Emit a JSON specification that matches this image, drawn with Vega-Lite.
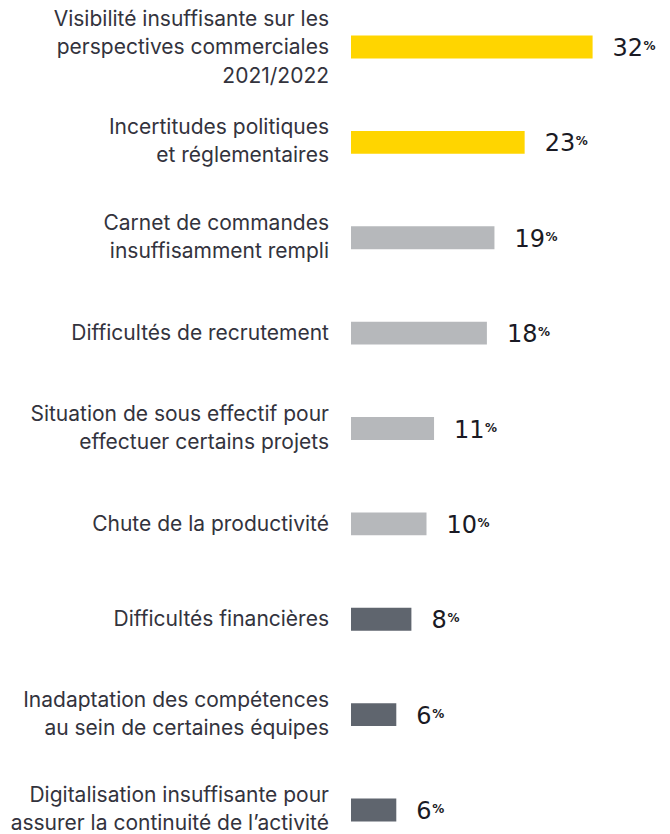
{
  "$schema": "https://vega.github.io/schema/vega-lite/v6.json",
  "width": 302,
  "height": 805,
  "autosize": {"type": "none"},
  "padding": {"left": 351, "top": 26, "right": 17, "bottom": 3},
  "background": "white",
  "config": {"view": {"stroke": null}, "font": "Inter"},
  "data": {
    "values": [
      {"cat": "Visibilité insuffisante sur les perspectives commerciales 2021/2022", "lines": ["Visibilité insuffisante sur les", "perspectives commerciales", "2021/2022"], "value": 32, "group": "top"},
      {"cat": "Incertitudes politiques et réglementaires", "lines": ["Incertitudes politiques", "et réglementaires"], "value": 23, "group": "top"},
      {"cat": "Carnet de commandes insuffisamment rempli", "lines": ["Carnet de commandes", "insuffisamment rempli"], "value": 19, "group": "mid"},
      {"cat": "Difficultés de recrutement", "lines": ["Difficultés de recrutement"], "value": 18, "group": "mid"},
      {"cat": "Situation de sous effectif pour effectuer certains projets", "lines": ["Situation de sous effectif pour", "effectuer certains projets"], "value": 11, "group": "mid"},
      {"cat": "Chute de la productivité", "lines": ["Chute de la productivité"], "value": 10, "group": "mid"},
      {"cat": "Difficultés financières", "lines": ["Difficultés financières"], "value": 8, "group": "low"},
      {"cat": "Inadaptation des compétences au sein de certaines équipes", "lines": ["Inadaptation des compétences", "au sein de certaines équipes"], "value": 6, "group": "low"},
      {"cat": "Digitalisation insuffisante pour assurer la continuité de l’activité", "lines": ["Digitalisation insuffisante pour", "assurer la continuité de l’activité"], "value": 6, "group": "low"}
    ]
  },
  "encoding": {
    "y": {
      "field": "cat",
      "type": "nominal",
      "sort": null,
      "scale": {"paddingInner": 0.76, "paddingOuter": 0.1},
      "axis": null
    }
  },
  "layer": [
    {
      "mark": {"type": "bar"},
      "encoding": {
        "x": {"field": "value", "type": "quantitative", "scale": {"domain": [0, 40]}, "axis": null},
        "color": {
          "field": "group",
          "type": "nominal",
          "scale": {"domain": ["top", "mid", "low"], "range": ["#FFD500", "#B6B8BB", "#5F656E"]},
          "legend": null
        }
      }
    },
    {
      "transform": [{"filter": "length(datum.lines) == 1"}],
      "mark": {"type": "text", "align": "right", "baseline": "middle", "dx": -22, "dy": 1, "fontSize": 21, "lineHeight": 28, "color": "#33333D", "font": "Inter"},
      "encoding": {
        "x": {"datum": 0, "type": "quantitative"},
        "text": {"field": "lines"}
      }
    },
    {
      "transform": [{"filter": "length(datum.lines) == 2"}],
      "mark": {"type": "text", "align": "right", "baseline": "middle", "dx": -22, "dy": -14, "fontSize": 21, "lineHeight": 28, "color": "#33333D", "font": "Inter"},
      "encoding": {
        "x": {"datum": 0, "type": "quantitative"},
        "text": {"field": "lines"}
      }
    },
    {
      "transform": [{"filter": "length(datum.lines) == 3"}],
      "mark": {"type": "text", "align": "right", "baseline": "middle", "dx": -22, "dy": -27, "fontSize": 21, "lineHeight": 28.5, "color": "#33333D", "font": "Inter"},
      "encoding": {
        "x": {"datum": 0, "type": "quantitative"},
        "text": {"field": "lines"}
      }
    },
    {
      "mark": {"type": "text", "align": "left", "baseline": "alphabetic", "dx": 20, "dy": 9, "fontSize": 24, "color": "#1A1A24", "font": "DejaVu Sans"},
      "encoding": {
        "x": {"field": "value", "type": "quantitative"},
        "text": {"field": "value", "type": "quantitative"}
      }
    },
    {
      "transform": [{"filter": "datum.value >= 10"}],
      "mark": {"type": "text", "align": "left", "baseline": "alphabetic", "dx": 51, "dy": 3, "fontSize": 12, "fontWeight": "bold", "color": "#1A1A24", "font": "DejaVu Sans"},
      "encoding": {
        "x": {"field": "value", "type": "quantitative"},
        "text": {"value": "%"}
      }
    },
    {
      "transform": [{"filter": "datum.value < 10"}],
      "mark": {"type": "text", "align": "left", "baseline": "alphabetic", "dx": 36, "dy": 3, "fontSize": 12, "fontWeight": "bold", "color": "#1A1A24", "font": "DejaVu Sans"},
      "encoding": {
        "x": {"field": "value", "type": "quantitative"},
        "text": {"value": "%"}
      }
    }
  ]
}
